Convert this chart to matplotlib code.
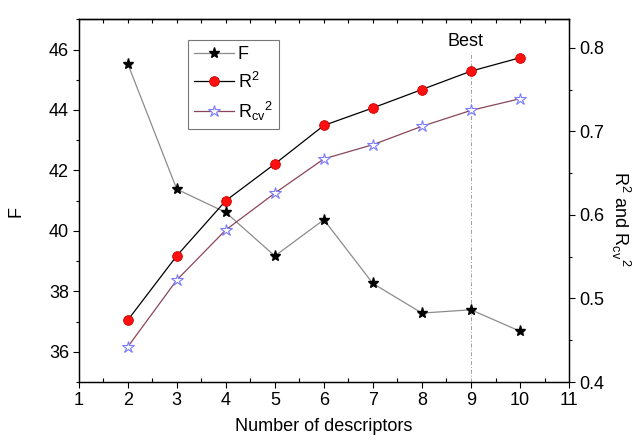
import matplotlib
matplotlib.use("Agg")
import matplotlib.pyplot as plt
from matplotlib.ticker import MultipleLocator
from matplotlib.lines import Line2D

plt.rcParams['font.family'] = ['Liberation Sans', 'DejaVu Sans']
plt.rcParams['mathtext.fontset'] = 'custom'
plt.rcParams['mathtext.rm'] = 'Liberation Sans'
plt.rcParams['mathtext.it'] = 'Liberation Sans'

n_desc = [2, 3, 4, 5, 6, 7, 8, 9, 10]
F_vals = [45.53, 41.38, 40.61, 39.17, 40.37, 38.26, 37.28, 37.39, 36.68]
R2_vals = [0.474, 0.551, 0.617, 0.661, 0.707, 0.728, 0.750, 0.772, 0.788]
Rcv2_vals = [0.442, 0.522, 0.582, 0.626, 0.667, 0.684, 0.706, 0.725, 0.739]
best_n = 9

FS = 13

fig = plt.figure(figsize=(6.43, 4.40), dpi=100)
ax = fig.add_axes([0.1224, 0.1318, 0.7626, 0.8243])
ax2 = ax.twinx()

# F line
ax.plot(n_desc, F_vals, color='#8c8c8c', lw=0.9, marker='*', ms=8,
        mfc='black', mec='black', zorder=3)
ax.axvline(best_n, ymin=0, ymax=0.91, color='#a0a0a0', lw=0.7,
           ls=(0, (4, 2, 1, 2)), zorder=1)
ax.text(best_n - 0.12, 46.25, 'Best', fontsize=FS, ha='center', va='center')

# R lines
ax2.plot(n_desc, R2_vals, color='black', lw=0.9, marker='o', ms=7,
         mfc='#ff1010', mec='#cc0000', mew=0.6, zorder=4)
ax2.plot(n_desc, Rcv2_vals, color='#8a4658', lw=0.9, marker='*', ms=9,
         mfc='white', mec='#7b7bff', mew=0.8, zorder=4)

ax.set_xlim(1, 11)
ax.set_ylim(35, 47)
ax2.set_ylim(0.4, 0.834)

ax.xaxis.set_major_locator(MultipleLocator(1))
ax.xaxis.set_minor_locator(MultipleLocator(0.5))
ax.yaxis.set_minor_locator(MultipleLocator(1))
ax2.yaxis.set_minor_locator(MultipleLocator(0.05))
ax.set_yticks([36, 38, 40, 42, 44, 46])
ax2.set_yticks([0.4, 0.5, 0.6, 0.7, 0.8])
ax2.set_yticklabels(['0.4', '0.5', '0.6', '0.7', '0.8'])

ax.tick_params(axis='x', which='major', direction='out', length=4.5, width=0.8,
               labelsize=FS, pad=3, top=False)
ax.tick_params(axis='x', which='minor', direction='in', length=3, width=0.8, top=False)
ax.tick_params(axis='y', which='major', direction='out', length=4, width=0.8,
               labelsize=FS, pad=3)
ax.tick_params(axis='y', which='minor', direction='out', length=2.5, width=0.8)
ax2.tick_params(axis='y', which='major', direction='out', length=4, width=0.8,
                labelsize=FS, pad=3)
ax2.tick_params(axis='y', which='minor', direction='out', length=2.5, width=0.8)

sec = ax.secondary_xaxis('top')
sec.xaxis.set_major_locator(MultipleLocator(0.5))
sec.tick_params(axis='x', which='major', direction='in', length=3, width=0.8,
                labeltop=False)
sec.spines['top'].set_linewidth(0.9)

for sp in list(ax.spines.values()) + list(ax2.spines.values()):
    sp.set_linewidth(0.9)

ax.set_xlabel('Number of descriptors', fontsize=FS)
ax.xaxis.set_label_coords(0.5, -0.10)
ax.set_ylabel('F', fontsize=FS)
ax.yaxis.set_label_coords(-0.11, 0.47)
ax2.text(1.105, 0.45, r'$\mathregular{R^2}$ and $\mathregular{R_{cv}{}^{2}}$',
         transform=ax.transAxes, rotation=270, fontsize=FS,
         ha='center', va='center')

handles = [
    Line2D([], [], color='#8c8c8c', lw=0.9, marker='*', ms=8, mfc='black', mec='black'),
    Line2D([], [], color='black', lw=0.9, marker='o', ms=7, mfc='#ff1010', mec='#cc0000', mew=0.6),
    Line2D([], [], color='#8a4658', lw=0.9, marker='*', ms=9, mfc='white', mec='#7b7bff', mew=0.8),
]
labels = ['F', r'$\mathregular{R^2}$', r'$\mathregular{R_{cv}{}^{2}}$']
leg = ax2.legend(handles, labels, loc='upper left', bbox_to_anchor=(0.223, 0.943),
                 borderaxespad=0, fontsize=FS, frameon=True, fancybox=False,
                 edgecolor='#555555', handlelength=2.2, handletextpad=0.2,
                 labelspacing=0.45, borderpad=0.35)
leg.get_frame().set_linewidth(0.8)

fig.savefig('out.png', dpi=100)
